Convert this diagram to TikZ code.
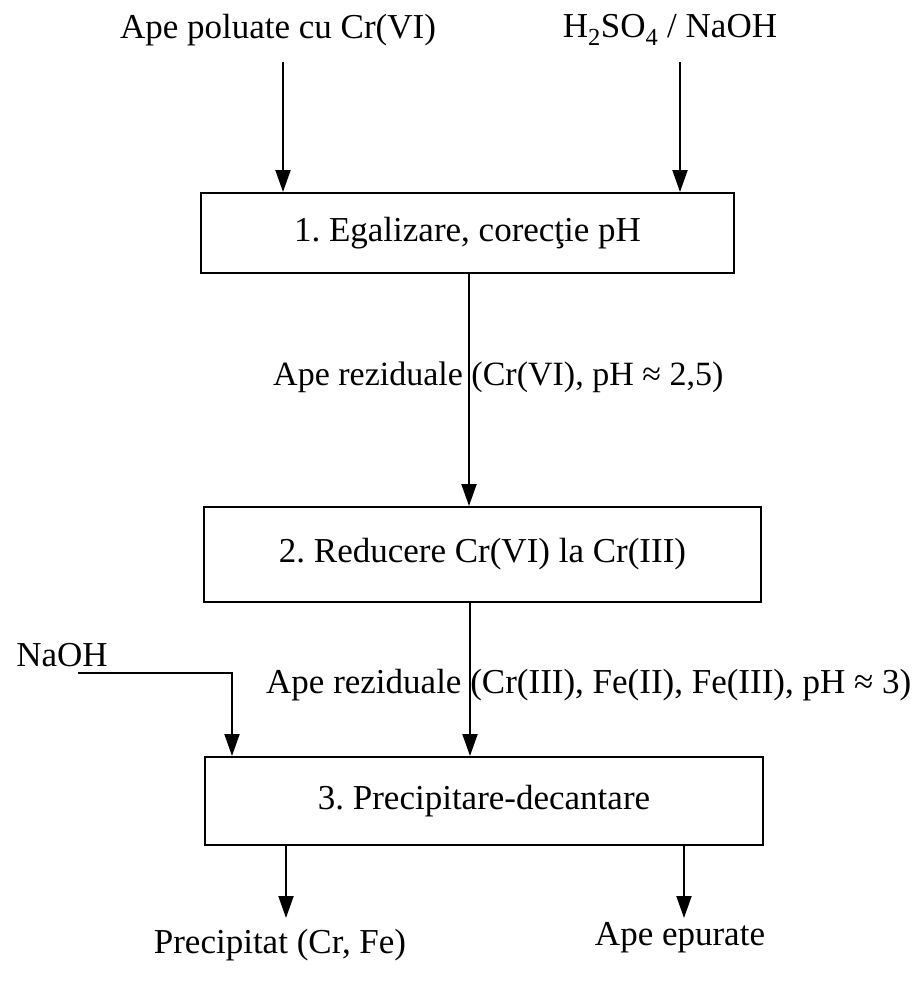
\documentclass[tikz,border=0pt]{standalone}
\usepackage{fontspec}
\setmainfont{Liberation Serif}
\usetikzlibrary{arrows.meta}
\frenchspacing
\begin{document}
\begin{tikzpicture}[x=1pt,y=-1pt,
  txt/.style={font=\fontsize{35}{40}\selectfont, inner sep=0pt},
  proc/.style={txt, draw, line width=2pt},
  flow/.style={line width=2pt, -{Triangle[length=22pt,width=15pt]}},
  plain/.style={line width=2pt}]
\useasboundingbox (0,0) rectangle (921,983);
% inputs
\node[txt] (in1) at (278,30) {Ape poluate cu Cr(VI)};
\node[txt] (in2) at (670,30) {H\textsubscript{2}SO\textsubscript{4} / NaOH};
% boxes
\node[proc, minimum width=533pt, minimum height=80pt] (b1) at (467.5,233) {1. Egalizare, corecţie pH};
\node[proc, minimum width=557pt, minimum height=95pt] (b2) at (482.5,554.5) {2. Reducere Cr(VI) la Cr(III)};
\node[proc, minimum width=558pt, minimum height=88pt] (b3) at (484,801) {3. Precipitare-decantare};
% labels
\node[txt, font=\fontsize{34}{40}\selectfont, anchor=west] (l1) at (273,377) {Ape reziduale (Cr(VI), pH ≈ 2,5)};
\node[txt, anchor=west] (l2) at (266,685) {Ape reziduale (Cr(III), Fe(II), Fe(III), pH ≈ 3)};
\node[txt] (naoh) at (62,655) {NaOH};
% outputs
\node[txt] (o1) at (280,945) {Precipitat (Cr, Fe)};
\node[txt] (o2) at (680,938) {Ape epurate};
% coordinates
\coordinate (s1) at (283,62);
\coordinate (s2) at (680,62);
\coordinate (m1) at (469,0);
\coordinate (m2) at (470,0);
\coordinate (nb) at (78,673);
\coordinate (nc) at (232,673);
\coordinate (e1) at (286,918);
\coordinate (e2) at (684,918);
% connectors
\draw[flow] (s1) -- (s1 |- b1.north);
\draw[flow] (s2) -- (s2 |- b1.north);
\draw[flow] (m1 |- b1.south) -- (m1 |- b2.north);
\draw[flow] (m2 |- b2.south) -- (m2 |- b3.north);
\draw[flow] (nb) -- (nc) -- (nc |- b3.north);
\draw[flow] (e1 |- b3.south) -- (e1);
\draw[flow] (e2 |- b3.south) -- (e2);
\end{tikzpicture}
\end{document}
